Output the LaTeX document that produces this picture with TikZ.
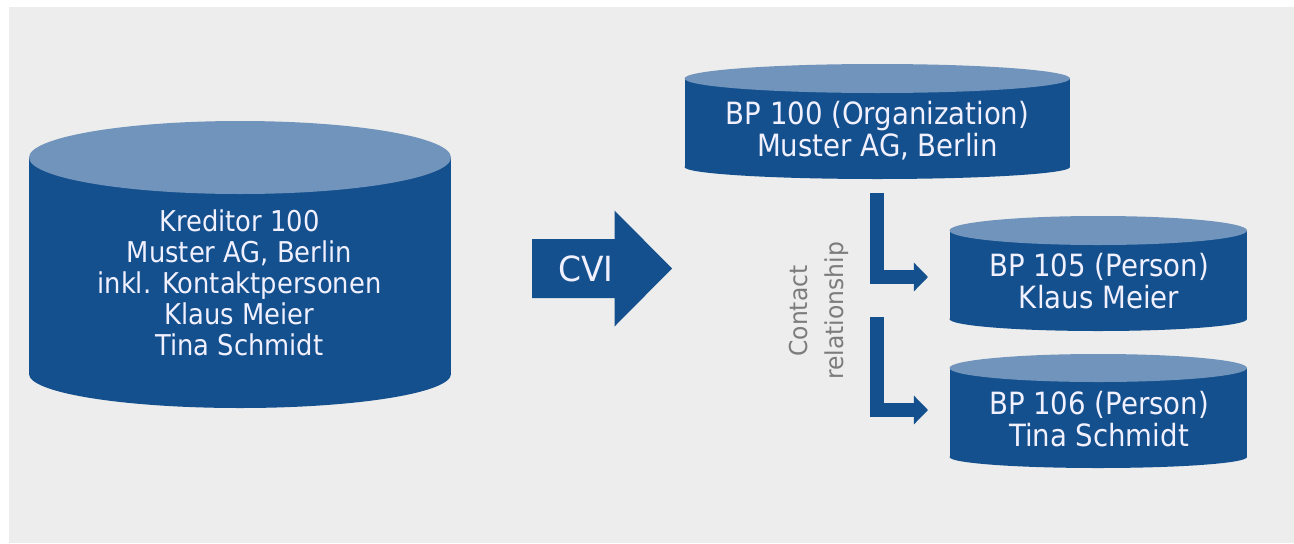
\documentclass[tikz,border=0pt]{standalone}
\usepackage{fontspec}
\setmainfont{DejaVu Sans Condensed}
\newfontfamily\wide{DejaVu Sans}[FakeStretch=0.95]
\usetikzlibrary{arrows.meta}
\definecolor{bluedark}{HTML}{14508D}
\definecolor{bluelight}{HTML}{7094BC}
\definecolor{paper}{HTML}{EDEDED}
\definecolor{greytext}{HTML}{7C7C7C}
\tikzset{
  bigtext/.style={text=white!94!blue,align=center,inner sep=0pt,font=\fontsize{21.5}{23.3}\selectfont},
  smalltext/.style={text=white!94!blue,align=center,inner sep=0pt,font=\fontsize{23}{24}\selectfont},
  sidelabel/.style={text=greytext,align=center,inner sep=0pt,rotate=90,font=\wide\fontsize{18.5}{27.5}\selectfont},
  blockarrow/.style={draw=bluedark,line width=10.8pt,-{Triangle[length=10.6pt,width=21pt]}}
}
% left, right, top of lid, centre of lid, lower edge of side, bottom
\newcommand{\dbcyl}[6]{%
  \fill[bluedark] (#1,#4) rectangle (#2,#5);
  \fill[bluedark] ({(#1+#2)/2},#5) ellipse [x radius={(#2-#1)/2}, y radius={#6-#5}];
  \fill[bluelight] ({(#1+#2)/2},#4) ellipse [x radius={(#2-#1)/2}, y radius={#4-#3}];
}
\begin{document}
\begin{tikzpicture}[x=0.75pt,y=-0.75pt]
\useasboundingbox (0,0) rectangle (1294,543);
\fill[white] (0,0) rectangle (1294,543);
\fill[paper] (9,7) rectangle (1294,543);
\dbcyl{29}{451}{121}{157.5}{374}{408}
\dbcyl{684.5}{1070}{64}{78.5}{167}{179}
\dbcyl{949.5}{1247}{216}{230.5}{319}{331}
\dbcyl{949.5}{1247}{354}{368}{457}{468}
\node[bigtext] (kred) at (239.5,283) {Kreditor 100\\Muster AG, Berlin\\inkl. Kontaktpersonen\\Klaus Meier\\Tina Schmidt};
\node[smalltext] (bpa) at (877.5,131) {BP 100 (Organization)\\Muster AG, Berlin};
\node[smalltext] (bpb) at (1099,281) {BP 105 (Person)\\Klaus Meier};
\node[smalltext] (bpc) at (1099,419.5) {BP 106 (Person)\\Tina Schmidt};
\fill[bluedark] (532,239) -- (614.5,239) -- (614.5,210.5) -- (672,268.5) -- (614.5,326.5) -- (614.5,298) -- (532,298) -- cycle;
\node[inner sep=0pt,text=white!94!blue,font=\wide\fontsize{26}{28}\selectfont] (cvi) at (586,269) {CVI};
\coordinate (sa) at (877,193);
\coordinate (sb) at (877,317);
\coordinate (ea) at (928,277);
\coordinate (eb) at (928,410);
\draw[blockarrow] (sa) |- (ea);
\draw[blockarrow] (sb) |- (eb);
\node[sidelabel] (rel) at (819,311) {Contact\\relationship};
\end{tikzpicture}
\end{document}
